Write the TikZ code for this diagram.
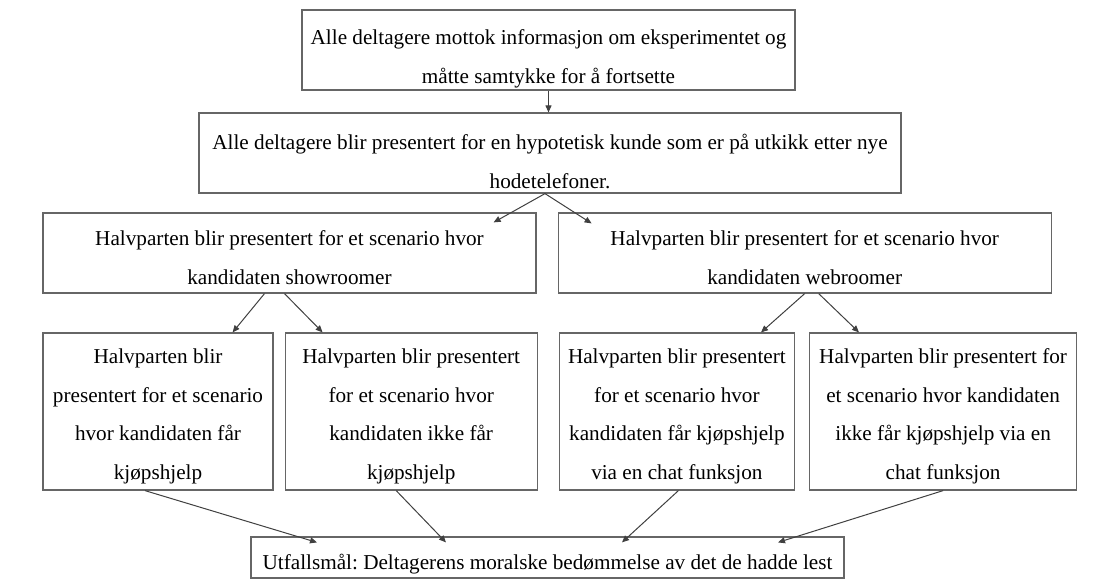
\documentclass[tikz,border=0pt]{standalone}
\usepackage{fontspec}
\setmainfont{Liberation Serif}
\usetikzlibrary{arrows.meta,positioning,calc}

\begin{document}
\begin{tikzpicture}[
  x=0.5pt, y=-0.5pt,
  >={Triangle[length=3.5pt,width=3pt]},
  box/.style={draw=black!60, line width=0.6pt, inner sep=0pt, align=center,
    font=\fontsize{10.6pt}{19.2pt}\selectfont\frenchspacing},
  widebox/.style={box, minimum height=40pt, text height=31.4pt},
  tallbox/.style={box, minimum height=78.5pt, text height=69.8pt},
  arr/.style={->, line width=0.5pt, black!75},
]
\useasboundingbox (0,0) rectangle (1101,585);

%------------------- Top: information and presentation -------------------
\node (info) [widebox, minimum width=246.5pt, text height=35.4pt] at (548.5,50)
  {Alle deltagere mottok informasjon om eksperimentet og\\måtte samtykke for å fortsette};
\node (kunde) [widebox, minimum width=351pt, text height=35.4pt] at (550,153)
  {Alle deltagere blir presentert for en hypotetisk kunde som er på utkikk etter nye\\hodetelefoner.};

%------------------- Middle row: showroomer / webroomer -------------------
\node (show) [widebox, minimum width=246.5pt] at (289.5,253)
  {Halvparten blir presentert for et scenario hvor\\kandidaten showroomer};
\node (web) [widebox, minimum width=246.5pt, right=10.5pt of show]
  {Halvparten blir presentert for et scenario hvor\\kandidaten webroomer};

%------------------- Lower row: four scenarios -------------------
\node (hjelp) [tallbox, minimum width=115pt] at (158,411.5)
  {Halvparten blir\\presentert for et scenario\\hvor kandidaten får\\kjøpshjelp};
\node (ikkehjelp) [tallbox, minimum width=126pt, right=5.5pt of hjelp]
  {Halvparten blir presentert\\for et scenario hvor\\kandidaten ikke får\\kjøpshjelp};
\node (chat) [tallbox, minimum width=117.5pt, right=10.5pt of ikkehjelp]
  {Halvparten blir presentert\\for et scenario hvor\\kandidaten får kjøpshjelp\\via en chat funksjon};
\node (ikkechat) [tallbox, minimum width=133.5pt, right=7pt of chat]
  {Halvparten blir presentert for\\et scenario hvor kandidaten\\ikke får kjøpshjelp via en\\chat funksjon};

% outcome
\node (utfall) [box, minimum width=296.5pt, minimum height=20.5pt, text height=14pt] at (547.5,557.5)
  {Utfallsmål: Deltagerens moralske bedømmelse av det de hadde lest};

%------------------- Arrows -------------------
\draw[arr] (info.south) -- (info.south |- kunde.north);                          % info -> kunde
\draw[arr] ($(kunde.south)+(-5,0)$) -- ($(show.north east)+(-43,10)$);          % kunde -> showroomer
\draw[arr] ($(kunde.south)+(-5,0)$) -- ($(web.north west)+(34,11)$);            % kunde -> webroomer
\draw[arr] ($(show.south)+(-25,0)$) -- ($(hjelp.north east)+(-41,0)$);          % showroomer -> hjelp
\draw[arr] ($(show.south)+(-5,0)$) -- ($(ikkehjelp.north west)+(38,0)$);        % showroomer -> ikke hjelp
\draw[arr] (web.south) -- ($(chat.north east)+(-34,0)$);                        % webroomer -> chat
\draw[arr] ($(web.south)+(14,0)$) -- ($(ikkechat.north west)+(50,0)$);          % webroomer -> ikke chat
\draw[arr] ($(hjelp.south)+(-13,0)$) -- ($(utfall.north)+(-230.5,6)$);          % scenarios -> utfall
\draw[arr] ($(ikkehjelp.south)+(-15,0)$) -- ($(utfall.north)+(-101.5,6)$);
\draw[arr] ($(chat.south)+(1.5,0)$) -- ($(utfall.north)+(74.5,6)$);
\draw[arr] (ikkechat.south) -- ($(utfall.north)+(230.5,6)$);

\end{tikzpicture}
\end{document}
